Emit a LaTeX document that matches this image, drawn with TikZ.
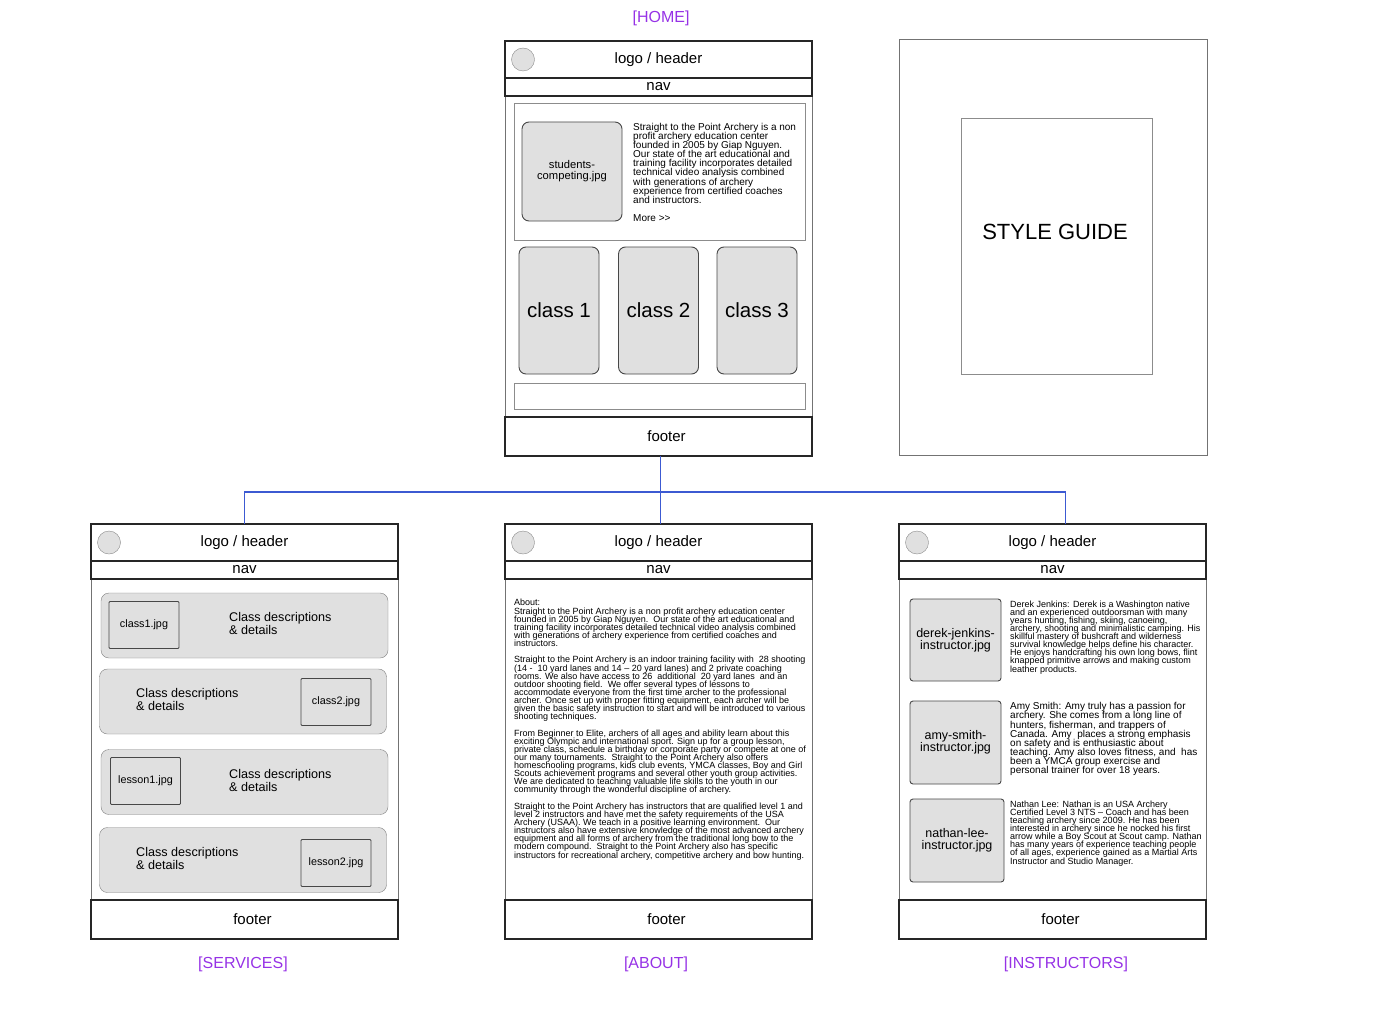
\documentclass[tikz,border=0pt]{standalone}
\usepackage{fontspec}
\setmainfont{Liberation Sans}
\newcommand\setfs[2]{\fontsize{#1}{#2}\selectfont\lineskiplimit=-\maxdimen}
\definecolor{labelviolet}{RGB}{150,50,230}
\definecolor{linkblue}{RGB}{60,90,210}
\tikzset{
	frame/.style={draw=black!55, line width=1, fill=white, minimum width=307, minimum height=415, inner sep=0, outer sep=0},
	bar/.style={draw=black!85, line width=1.3, fill=white, minimum width=307, inner sep=0, outer sep=0, font=\setfs{15}{18}},
	logo/.style={circle, draw=black!45, fill=black!12, minimum size=23, inner sep=0},
	pic/.style={draw=black!72, line width=0.9, fill=black!12, rounded corners=7, inner sep=0, align=center},
	panel/.style={draw=black!50, fill=black!12, rounded corners=8, inner sep=0},
	plain/.style={draw=black!45, inner sep=0},
	para/.style={anchor=base west, align=left, inner sep=0},
	pagename/.style={text=labelviolet, font=\setfs{16}{19}},
	link/.style={draw=linkblue, line width=1.3},
}
\begin{document}
\begin{tikzpicture}[x=1pt, y=-1pt]
	\useasboundingbox (0,0) rectangle (1375,1019);
	
	% page skeletons
	\foreach \pg/\px/\py in {home/505/41, svc/91/524, about/505/524, inst/899/524}{
		\node[frame, anchor=north west] (\pg) at (\px,\py) {};
		\node[bar, anchor=north, minimum height=37] (\pg-head) at (\pg.north) {logo / header};
		\node[bar, anchor=north, minimum height=18] (\pg-nav) at (\pg-head.south) {nav};
		\node[bar, anchor=south, minimum height=39] (\pg-foot) at (\pg.south) {};
		\node[font=\setfs{15}{18}] (\pg-foottext) at ([xshift=8]\pg-foot.center) {footer};
		\node[logo] (\pg-logo) at ([xshift=18]\pg-head.west) {};
	}
	
	\node[pagename] (home-name) at (661,18) {[HOME]};
	\node[pagename] (svc-name) at (243,964) {[SERVICES]};
	\node[pagename] (about-name) at (656,964) {[ABOUT]};
	\node[pagename] (inst-name) at (1066,964) {[INSTRUCTORS]};
	
	% home
	\node[plain, minimum width=291, minimum height=137] (home-intro) at (659.5,171.5) {};
	\node[pic, minimum width=100, minimum height=99, font=\setfs{11.2}{11}] (home-img) at (572,171.5) {students-\\competing.jpg};
	\node[para, font=\setfs{10}{9.1}] (home-blurb) at (633,221.5) {Straight to the Point Archery is a non\\
		profit archery education center\\
		founded in 2005 by Giap Nguyen.\\
		Our state of the art educational and\\
		training facility incorporates detailed\\
		technical video analysis combined\\
		with generations of archery\\
		experience from certified coaches\\
		and instructors.\\[9.1pt]
		More >{}>};
	\foreach \i/\cx in {1/559, 2/658.5, 3/757}
		\node[pic, minimum width=80, minimum height=127, font=\setfs{20.5}{24}] (home-class\i) at (\cx,310.5) {class \i};
	\node[plain, minimum width=291, minimum height=26] (home-strip) at (659.5,396) {};
	
	% style guide
	\node[frame, minimum width=308] (guide) at (1053,247.5) {};
	\node[plain, minimum width=191, minimum height=256] (guide-page) at (1056.5,246) {};
	\node[font=\setfs{22}{26}] (guide-title) at (1055,232) {STYLE GUIDE};
	
	% services
	\foreach \i/\rx/\ry/\ix/\iy/\tx/\img in {1/244.5/625.5/144/625/229/class1.jpg, 2/243/701.5/336/702/136/class2.jpg, 3/244.5/782/145.5/781/229/lesson1.jpg, 4/243/860/336/863/136/lesson2.jpg}{
		\node[panel, minimum width=287, minimum height=65] (svc-row\i) at (\rx,\ry) {};
		\node[pic, rounded corners=1, minimum width=70, minimum height=47, font=\setfs{10.8}{12}] (svc-img\i) at (\ix,\iy) {\img};
		\node[anchor=west, align=left, inner sep=0, font=\setfs{12.6}{13}] (svc-text\i) at (\tx,\ry-2) {Class descriptions\\\& details};
	}
	
	% about
	\node[para, font=\setfs{9}{8.13}] (about-text) at (514,858) {About:\\
		Straight to the Point Archery is a non profit archery education center\\
		founded in 2005 by Giap Nguyen.\ \ Our state of the art educational and\\
		training facility incorporates detailed technical video analysis combined\\
		with generations of archery experience from certified coaches and\\
		instructors.\\[8.13pt]
		Straight to the Point Archery is an indoor training facility with\ \ 28 shooting\\
		(14 -\ \ 10 yard lanes and 14 – 20 yard lanes) and 2 private coaching\\
		rooms. We also have access to 26\ \ additional\ \ 20 yard lanes\ \ and an\\
		outdoor shooting field.\ \ We offer several types of lessons to\\
		accommodate everyone from the first time archer to the professional\\
		archer. Once set up with proper fitting equipment, each archer will be\\
		given the basic safety instruction to start and will be introduced to various\\
		shooting techniques.\\[8.13pt]
		From Beginner to Elite, archers of all ages and ability learn about this\\
		exciting Olympic and international sport. Sign up for a group lesson,\\
		private class, schedule a birthday or corporate party or compete at one of\\
		our many tournaments.\ \ Straight to the Point Archery also offers\\
		homeschooling programs, kids club events, YMCA classes, Boy and Girl\\
		Scouts achievement programs and several other youth group activities.\\
		We are dedicated to teaching valuable life skills to the youth in our\\
		community through the wonderful discipline of archery.\\[8.13pt]
		Straight to the Point Archery has instructors that are qualified level 1 and\\
		level 2 instructors and have met the safety requirements of the USA\\
		Archery (USAA). We teach in a positive learning environment.\ \ Our\\
		instructors also have extensive knowledge of the most advanced archery\\
		equipment and all forms of archery from the traditional long bow to the\\
		modern compound.\ \ Straight to the Point Archery also has specific\\
		instructors for recreational archery, competitive archery and bow hunting.};
	
	% instructors
	\node[pic, rounded corners=3, minimum width=91, minimum height=82, font=\setfs{12.5}{12}] (inst-img1) at (955.5,640) {derek-jenkins-\\instructor.jpg};
	\node[pic, rounded corners=3, minimum width=91, minimum height=83, font=\setfs{12.5}{12}] (inst-img2) at (955.5,742.5) {amy-smith-\\instructor.jpg};
	\node[pic, rounded corners=3, minimum width=94, minimum height=83, font=\setfs{12.5}{12}] (inst-img3) at (957,840.5) {nathan-lee-\\instructor.jpg};
	\node[para, font=\setfs{9}{8.1}] (inst-bio1) at (1010,672) {Derek Jenkins: Derek is a Washington native\\
		and an experienced outdoorsman with many\\
		years hunting, fishing, skiing, canoeing,\\
		archery, shooting and minimalistic camping. His\\
		skillful mastery of bushcraft and wilderness\\
		survival knowledge helps define his character.\\
		He enjoys handcrafting his own long bows, flint\\
		knapped primitive arrows and making custom\\
		leather products.};
	\node[para, font=\setfs{10}{9.1}] (inst-bio2) at (1010,773.5) {Amy Smith: Amy truly has a passion for\\
		archery. She comes from a long line of\\
		hunters, fisherman, and trappers of\\
		Canada. Amy\ \ places a strong emphasis\\
		on safety and is enthusiastic about\\
		teaching. Amy also loves fitness, and\ \ has\\
		been a YMCA group exercise and\\
		personal trainer for over 18 years.};
	\node[para, font=\setfs{9}{8.1}] (inst-bio3) at (1010,864) {Nathan Lee: Nathan is an USA Archery\\
		Certified Level 3 NTS – Coach and has been\\
		teaching archery since 2009. He has been\\
		interested in archery since he nocked his first\\
		arrow while a Boy Scout at Scout camp. Nathan\\
		has many years of experience teaching people\\
		of all ages, experience gained as a Martial Arts\\
		Instructor and Studio Manager.};
	
	% site map links
	\coordinate (bus) at (0,492);
	\draw[link] ([xshift=2]home-foot.south) -- ([xshift=2]home-foot.south |- bus) coordinate (hub);
	\draw[link] (svc-head.north) |- (hub);
	\draw[link] (hub) -| ([xshift=13]inst-head.north);
	\draw[link] (hub) -- ([xshift=2]about-head.north);
\end{tikzpicture}
\end{document}
